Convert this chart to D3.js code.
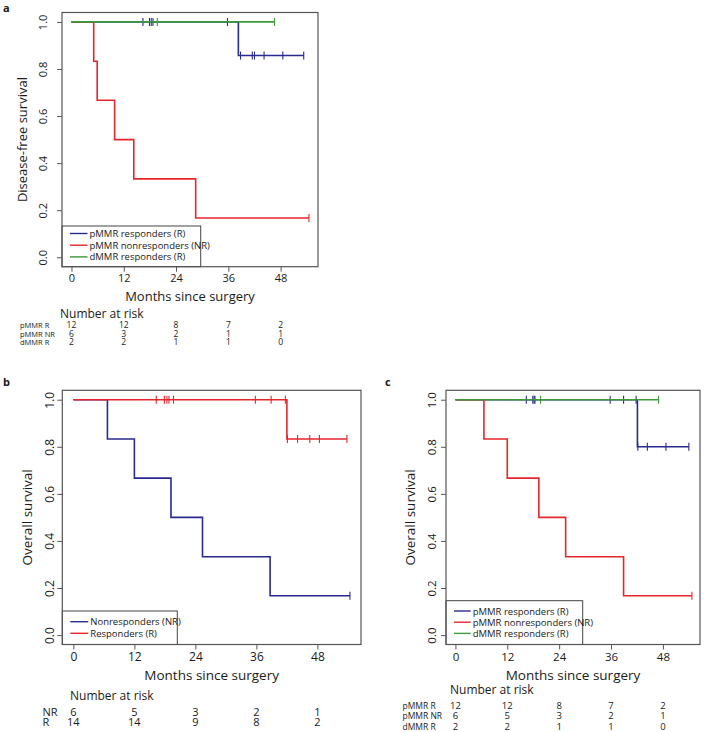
<!DOCTYPE html>
<html>
<head>
<meta charset="utf-8">
<script src="https://cdn.jsdelivr.net/npm/d3@7"></script>
<style>
  body { margin: 0; background: #fff; }
  svg text { font-family: 'Open Sans', 'Noto Sans', sans-serif; fill: #1a1a1a; }
</style>
</head>
<body>
<div id="chart"></div>
<script>
// ---- data ----
var monthTicks = [0, 12, 24, 36, 48];
var survTicks = [0, 0.2, 0.4, 0.6, 0.8, 1.0];
var maxMonths = 54.4;

var BLUE = "#2a2a8e", RED = "#e5262c", GREEN = "#3a9a3c";

// panel a : disease-free survival
var dfsPR_times = [0, 38.3];
var dfsPR_surv = [1, 0.857];
var dfsPR_censor = [16.4, 17.9, 18.3, 18.7, 35.8, 38.8, 41.5, 42.0, 44.2, 48.5, 53.3];
var dfsNR_times = [0, 5.1, 5.9, 9.9, 14.3, 28.5];
var dfsNR_surv = [1, 0.833, 0.667, 0.5, 0.333, 0.167];
var dfsNR_censor = [54.5];
var dfsDR_times = [0];
var dfsDR_surv = [1];
var dfsDR_censor = [19.7, 46.6];

// panel b : overall survival, NR vs R
var osNR_times = [0, 6.7, 12.0, 19.2, 25.4, 38.7];
var osNR_surv = [1, 0.833, 0.667, 0.5, 0.333, 0.167];
var osNR_censor = [54.4];
var osR_times = [0, 42.0];
var osR_surv = [1, 0.833];
var osR_censor = [16.3, 17.9, 18.4, 18.8, 19.7, 35.8, 38.9, 41.7, 42.1, 44.1, 46.5, 48.4, 53.8];

// panel c : overall survival by MMR group
var osPR_times = [0, 42.1];
var osPR_surv = [1, 0.8];
var osPR_censor = [16.4, 17.9, 18.2, 18.4, 35.8, 38.9, 41.8, 42.2, 44.4, 48.7, 54.0];
var osPNR_times = [0, 6.6, 12.0, 19.3, 25.5, 38.9];
var osPNR_surv = [1, 0.833, 0.667, 0.5, 0.333, 0.167];
var osPNR_censor = [54.7];
var osDR_times = [0];
var osDR_surv = [1];
var osDR_censor = [19.7, 47.0];

// number at risk
var riskA_labels = ["pMMR R", "pMMR NR", "dMMR R"];
var riskA_values = [[12, 12, 8, 7, 2], [6, 3, 2, 1, 1], [2, 2, 1, 1, 0]];
var riskB_labels = ["NR", "R"];
var riskB_values = [[6, 5, 3, 2, 1], [14, 14, 9, 8, 2]];
var riskC_labels = ["pMMR R", "pMMR NR", "dMMR R"];
var riskC_values = [[12, 12, 8, 7, 2], [6, 5, 3, 2, 1], [2, 2, 1, 1, 0]];

var legendMMR = ["pMMR responders (R)", "pMMR nonresponders (NR)", "dMMR responders (R)"];
var legendB = ["Nonresponders (NR)", "Responders (R)"];

// ---- drawing ----
var svg = d3.select("#chart").append("svg")
  .attr("width", 704)
  .attr("height", 732);

function curve(times, surv, censor, color) {
  return {times: times, surv: surv, censor: censor, color: color};
}

function survAt(c, t) {
  var i = d3.bisectRight(c.times, t) - 1;
  return c.surv[Math.max(0, i)];
}

function drawPanel(p) {
  var g = svg.append("g");
  var x = d3.scaleLinear()
    .domain([-0.04 * maxMonths, 1.04 * maxMonths])
    .range([p.left, p.right]);
  var y = d3.scaleLinear()
    .domain([-0.04, 1.04])
    .range([p.bottom, p.top]);

  // curves
  var line = d3.line()
    .x(function(d) { return x(d[0]); })
    .y(function(d) { return y(d[1]); })
    .curve(d3.curveStepAfter);

  p.curves.forEach(function(c) {
    var pts = c.times.map(function(t, i) { return [t, c.surv[i]]; });
    var end = d3.max(c.censor.concat(c.times));
    pts.push([end, c.surv[c.surv.length - 1]]);
    g.append("path")
      .attr("d", line(pts))
      .attr("fill", "none")
      .attr("stroke", c.color)
      .attr("stroke-width", 1.6);
    g.selectAll(null)
      .data(c.censor)
      .enter().append("line")
      .attr("x1", function(d) { return x(d); })
      .attr("x2", function(d) { return x(d); })
      .attr("y1", function(d) { return y(survAt(c, d)) - 4; })
      .attr("y2", function(d) { return y(survAt(c, d)) + 4; })
      .attr("stroke", c.color)
      .attr("stroke-width", 1.1);
  });

  // legend
  var lg = g.append("g");
  lg.append("rect")
    .attr("x", p.left)
    .attr("y", p.legTop)
    .attr("width", p.legRight - p.left)
    .attr("height", p.bottom - p.legTop)
    .attr("fill", "#fff")
    .attr("stroke", "#444")
    .attr("stroke-width", 1);
  p.legend.forEach(function(txt, i) {
    var ly = p.legY0 + i * p.legStep;
    lg.append("line")
      .attr("x1", p.left + p.legLine[0])
      .attr("x2", p.left + p.legLine[1])
      .attr("y1", ly).attr("y2", ly)
      .attr("stroke", p.curves[i].color)
      .attr("stroke-width", 1.4);
    lg.append("text")
      .attr("x", p.left + p.legLine[1] + 2)
      .attr("y", ly + 3.5)
      .style("font-size", p.legFont + "px")
      .text(txt);
  });

  // box
  g.append("rect")
    .attr("x", p.left).attr("y", p.top)
    .attr("width", p.right - p.left)
    .attr("height", p.bottom - p.top)
    .attr("fill", "none")
    .attr("stroke", "#555")
    .attr("stroke-width", 1.2);

  // x axis
  var xa = g.append("g")
    .attr("transform", "translate(0," + p.bottom + ")")
    .call(d3.axisBottom(x).tickValues(monthTicks).tickSize(5).tickPadding(3));
  xa.select(".domain").remove();
  xa.selectAll("line").attr("stroke", "#555");
  xa.selectAll("text").style("font-size", p.tickFont + "px");

  // y axis, labels rotated like base R
  var ya = g.append("g")
    .attr("transform", "translate(" + p.left + ",0)")
    .call(d3.axisLeft(y).tickValues(survTicks).tickSize(5).tickFormat(d3.format(".1f")));
  ya.select(".domain").remove();
  ya.selectAll("line").attr("stroke", "#555");
  ya.selectAll("text")
    .attr("x", null)
    .attr("dy", "0.36em")
    .attr("text-anchor", "middle")
    .attr("transform", "translate(" + (p.yTickX - p.left) + ",0) rotate(-90)")
    .style("font-size", p.tickFont + "px");

  // titles
  g.append("text")
    .attr("x", (p.left + p.right) / 2)
    .attr("y", p.xTitleY)
    .attr("text-anchor", "middle")
    .style("font-size", p.titleFont + "px")
    .text("Months since surgery");
  g.append("text")
    .attr("transform", "translate(" + p.yTitleX + "," + (p.top + p.bottom) / 2 + ") rotate(-90)")
    .attr("text-anchor", "middle")
    .style("font-size", p.titleFont + "px")
    .text(p.ylabel);

  // panel letter
  g.append("text")
    .attr("x", p.letterX).attr("y", p.letterY)
    .style("font-size", "11px")
    .style("font-weight", "bold")
    .text(p.letter);

  // number at risk
  g.append("text")
    .attr("x", p.riskTitleX)
    .attr("y", p.riskTitleY)
    .style("font-size", "12px")
    .text("Number at risk");
  p.riskLabels.forEach(function(lab, r) {
    var ry = p.riskY0 + r * p.riskStep;
    g.append("text")
      .attr("x", p.riskLabelX).attr("y", ry)
      .style("font-size", p.riskLabelFont + "px")
      .text(lab);
    g.selectAll(null)
      .data(p.riskValues[r])
      .enter().append("text")
      .attr("x", function(d, i) { return x(monthTicks[i]); })
      .attr("y", ry)
      .attr("text-anchor", "middle")
      .style("font-size", p.riskFont + "px")
      .text(function(d) { return d; });
  });
}

drawPanel({
  letter: "a", letterX: 3, letterY: 12,
  left: 62, right: 318, top: 12.5, bottom: 266.7,
  curves: [curve(dfsPR_times, dfsPR_surv, dfsPR_censor, BLUE),
           curve(dfsNR_times, dfsNR_surv, dfsNR_censor, RED),
           curve(dfsDR_times, dfsDR_surv, dfsDR_censor, GREEN)],
  ylabel: "Disease-free survival", yTitleX: 27, yTickX: 43,
  tickFont: 11, titleFont: 13, xTitleY: 301,
  legend: legendMMR, legTop: 226, legRight: 200.7, legY0: 233.5, legStep: 11.7,
  legLine: [8, 25.5], legFont: 9.5,
  riskTitleX: 60, riskTitleY: 317.5, riskLabelX: 20, riskY0: 328.3, riskStep: 8.4,
  riskFont: 8.5, riskLabelFont: 7.5,
  riskLabels: riskA_labels, riskValues: riskA_values
});

drawPanel({
  letter: "b", letterX: 3, letterY: 386,
  left: 62.3, right: 361, top: 390.3, bottom: 644.5,
  curves: [curve(osNR_times, osNR_surv, osNR_censor, BLUE),
           curve(osR_times, osR_surv, osR_censor, RED)],
  ylabel: "Overall survival", yTitleX: 32, yTickX: 49.5,
  tickFont: 12, titleFont: 13.5, xTitleY: 680,
  legend: legendB, legTop: 611, legRight: 177.3, legY0: 621.7, legStep: 11.6,
  legLine: [8, 26], legFont: 9.5,
  riskTitleX: 70, riskTitleY: 700, riskLabelX: 42.5, riskY0: 715.5, riskStep: 10.3,
  riskFont: 11, riskLabelFont: 11,
  riskLabels: riskB_labels, riskValues: riskB_values
});

drawPanel({
  letter: "c", letterX: 385, letterY: 386,
  left: 446, right: 700, top: 390.3, bottom: 644.5,
  curves: [curve(osPR_times, osPR_surv, osPR_censor, BLUE),
           curve(osPNR_times, osPNR_surv, osPNR_censor, RED),
           curve(osDR_times, osDR_surv, osDR_censor, GREEN)],
  ylabel: "Overall survival", yTitleX: 415, yTickX: 431.5,
  tickFont: 11.5, titleFont: 13.5, xTitleY: 680,
  legend: legendMMR, legTop: 600.7, legRight: 582.7, legY0: 611, legStep: 11.2,
  legLine: [8, 24.7], legFont: 9.5,
  riskTitleX: 450, riskTitleY: 694, riskLabelX: 402.5, riskY0: 708.5, riskStep: 10.8,
  riskFont: 9.5, riskLabelFont: 8.5,
  riskLabels: riskC_labels, riskValues: riskC_values
});
</script>
</body>
</html>
